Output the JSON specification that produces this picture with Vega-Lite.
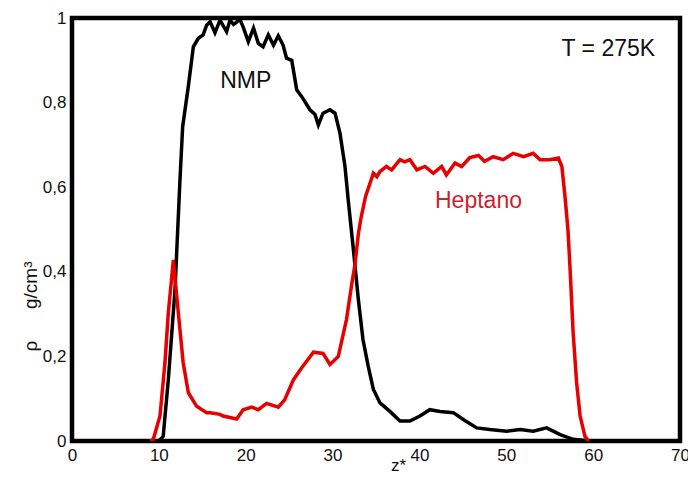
{
  "$schema": "https://vega.github.io/schema/vega-lite/v6.json",
  "autosize": "none",
  "padding": {"left": 72, "top": 18, "right": 8, "bottom": 40},
  "width": 608,
  "height": 423,
  "background": "white",
  "config": {
    "view": {"stroke": "black", "strokeWidth": 4.5},
    "font": "Liberation Sans"
  },
  "datasets": {
    "nmp": [
      {"z": 10.0, "rho": 0},
      {"z": 10.5, "rho": 0.011},
      {"z": 11.09, "rho": 0.145},
      {"z": 11.86, "rho": 0.358},
      {"z": 12.43, "rho": 0.617},
      {"z": 12.74, "rho": 0.743},
      {"z": 13.39, "rho": 0.838},
      {"z": 13.97, "rho": 0.932},
      {"z": 14.54, "rho": 0.952},
      {"z": 15.1, "rho": 0.96},
      {"z": 15.5, "rho": 0.983},
      {"z": 15.9, "rho": 0.991},
      {"z": 16.46, "rho": 0.965},
      {"z": 17.04, "rho": 0.995},
      {"z": 17.8, "rho": 0.968},
      {"z": 18.19, "rho": 0.995},
      {"z": 18.6, "rho": 0.985},
      {"z": 18.96, "rho": 0.99},
      {"z": 19.3, "rho": 0.998},
      {"z": 19.7, "rho": 0.979},
      {"z": 20.3, "rho": 0.944},
      {"z": 20.9, "rho": 0.976},
      {"z": 21.45, "rho": 0.94},
      {"z": 22.0, "rho": 0.932},
      {"z": 22.6, "rho": 0.96},
      {"z": 23.2, "rho": 0.936},
      {"z": 23.75, "rho": 0.958},
      {"z": 24.3, "rho": 0.936},
      {"z": 24.7, "rho": 0.905},
      {"z": 25.3, "rho": 0.9},
      {"z": 25.87, "rho": 0.83},
      {"z": 26.45, "rho": 0.814},
      {"z": 27.4, "rho": 0.783},
      {"z": 27.98, "rho": 0.772},
      {"z": 28.36, "rho": 0.747},
      {"z": 28.9, "rho": 0.775},
      {"z": 29.7, "rho": 0.783},
      {"z": 30.28, "rho": 0.775},
      {"z": 30.85, "rho": 0.728},
      {"z": 31.43, "rho": 0.649},
      {"z": 31.8, "rho": 0.57},
      {"z": 32.4, "rho": 0.452},
      {"z": 32.97, "rho": 0.334},
      {"z": 33.5, "rho": 0.24},
      {"z": 34.1, "rho": 0.177},
      {"z": 34.7, "rho": 0.122},
      {"z": 35.46, "rho": 0.09},
      {"z": 36.6, "rho": 0.07},
      {"z": 37.76, "rho": 0.047},
      {"z": 38.9, "rho": 0.047},
      {"z": 40.06, "rho": 0.059},
      {"z": 41.2, "rho": 0.074},
      {"z": 42.37, "rho": 0.07},
      {"z": 43.9, "rho": 0.067},
      {"z": 45.05, "rho": 0.051},
      {"z": 46.6, "rho": 0.031},
      {"z": 48.1, "rho": 0.027},
      {"z": 50.05, "rho": 0.023},
      {"z": 51.6, "rho": 0.027},
      {"z": 53.1, "rho": 0.023},
      {"z": 54.65, "rho": 0.031},
      {"z": 56.2, "rho": 0.015},
      {"z": 57.7, "rho": 0.004},
      {"z": 59.6, "rho": 0}
    ],
    "hep": [
      {"z": 9.0, "rho": 0},
      {"z": 9.36, "rho": 0.004},
      {"z": 10.13, "rho": 0.059},
      {"z": 10.7, "rho": 0.185},
      {"z": 11.09, "rho": 0.303},
      {"z": 11.67, "rho": 0.428},
      {"z": 12.24, "rho": 0.303},
      {"z": 12.8, "rho": 0.185},
      {"z": 13.4, "rho": 0.114},
      {"z": 14.35, "rho": 0.082},
      {"z": 15.5, "rho": 0.067},
      {"z": 15.9, "rho": 0.067},
      {"z": 17.04, "rho": 0.063},
      {"z": 17.4, "rho": 0.059},
      {"z": 18.96, "rho": 0.052},
      {"z": 19.7, "rho": 0.074},
      {"z": 20.7, "rho": 0.08},
      {"z": 21.45, "rho": 0.074},
      {"z": 22.4, "rho": 0.089},
      {"z": 23.75, "rho": 0.08},
      {"z": 24.5, "rho": 0.098},
      {"z": 25.5, "rho": 0.145},
      {"z": 26.45, "rho": 0.173},
      {"z": 27.8, "rho": 0.21},
      {"z": 28.9, "rho": 0.207},
      {"z": 29.7, "rho": 0.181},
      {"z": 30.66, "rho": 0.2},
      {"z": 31.6, "rho": 0.287},
      {"z": 32.2, "rho": 0.37},
      {"z": 32.58, "rho": 0.417},
      {"z": 32.97, "rho": 0.49},
      {"z": 33.3, "rho": 0.53},
      {"z": 33.8, "rho": 0.578},
      {"z": 34.7, "rho": 0.633},
      {"z": 35.1, "rho": 0.625},
      {"z": 35.46, "rho": 0.637},
      {"z": 36.2, "rho": 0.649},
      {"z": 36.8, "rho": 0.641},
      {"z": 37.76, "rho": 0.665},
      {"z": 38.3, "rho": 0.66},
      {"z": 38.9, "rho": 0.665},
      {"z": 39.7, "rho": 0.641},
      {"z": 40.64, "rho": 0.649},
      {"z": 41.6, "rho": 0.633},
      {"z": 42.56, "rho": 0.649},
      {"z": 43.1, "rho": 0.629},
      {"z": 44.1, "rho": 0.657},
      {"z": 44.86, "rho": 0.649},
      {"z": 45.8, "rho": 0.67},
      {"z": 46.8, "rho": 0.675},
      {"z": 47.5, "rho": 0.661},
      {"z": 48.5, "rho": 0.672},
      {"z": 49.65, "rho": 0.665},
      {"z": 50.8, "rho": 0.68},
      {"z": 52.0, "rho": 0.672},
      {"z": 53.1, "rho": 0.68},
      {"z": 53.9, "rho": 0.665},
      {"z": 55.0, "rho": 0.665},
      {"z": 56.0, "rho": 0.669},
      {"z": 56.4, "rho": 0.649},
      {"z": 56.76, "rho": 0.578},
      {"z": 57.1, "rho": 0.499},
      {"z": 57.33, "rho": 0.413},
      {"z": 57.7, "rho": 0.255},
      {"z": 58.1, "rho": 0.137},
      {"z": 58.5, "rho": 0.059},
      {"z": 59.06, "rho": 0.011},
      {"z": 59.5, "rho": 0}
    ],
    "xmajor": [{"z": 10}, {"z": 20}, {"z": 30}, {"z": 40}, {"z": 50}, {"z": 60}],
    "xminor": [{"z": 5}, {"z": 15}, {"z": 25}, {"z": 35}, {"z": 45}, {"z": 55}, {"z": 65}],
    "ymajor": [{"rho": 0.2}, {"rho": 0.4}, {"rho": 0.6}, {"rho": 0.8}],
    "yminor": [{"rho": 0.1}, {"rho": 0.3}, {"rho": 0.5}, {"rho": 0.7}, {"rho": 0.9}]
  },
  "encoding": {
    "x": {
      "field": "z", "type": "quantitative",
      "scale": {"domain": [0, 70], "nice": false, "zero": false},
      "axis": {
        "orient": "bottom", "values": [0, 10, 20, 30, 40, 50, 60, 70],
        "ticks": false, "domain": false, "grid": false,
        "labelPadding": 6, "labelFontSize": 17, "labelColor": "#111",
        "labelFlush": false, "labelOverlap": false,
        "title": "z*", "titleFontSize": 17, "titleFontWeight": "normal",
        "titleColor": "#111", "titleX": 326, "titleY": 24,
        "titleBaseline": "middle", "titleAlign": "center"
      }
    },
    "y": {
      "field": "rho", "type": "quantitative",
      "scale": {"domain": [0, 1], "nice": false},
      "axis": {
        "orient": "left", "values": [0, 0.2, 0.4, 0.6, 0.8, 1],
        "ticks": false, "domain": false, "grid": false,
        "labelPadding": 6, "labelFontSize": 17, "labelColor": "#111",
        "labelFlush": false, "labelOverlap": false,
        "labelExpr": "replace(format(datum.value, '~g'), '.', ',')",
        "title": "ρ\u00a0\u00a0\u00a0\u00a0\u00a0\u00a0g/cm³", "titleFontSize": 19, "titleFontWeight": "normal",
        "titleColor": "#111", "titleAngle": -90, "titleX": -42, "titleY": 288,
        "titleBaseline": "middle", "titleAlign": "center"
      }
    }
  },
  "layer": [
    {
      "data": {"name": "xmajor"},
      "mark": {"type": "rule", "color": "black", "strokeWidth": 1.5},
      "encoding": {"y": {"datum": 0}, "y2": {"datum": 0.026}}
    },
    {
      "data": {"name": "xmajor"},
      "mark": {"type": "rule", "color": "black", "strokeWidth": 1.5},
      "encoding": {"y": {"datum": 1}, "y2": {"datum": 0.974}}
    },
    {
      "data": {"name": "xminor"},
      "mark": {"type": "rule", "color": "black", "strokeWidth": 1.5},
      "encoding": {"y": {"datum": 0}, "y2": {"datum": 0.014}}
    },
    {
      "data": {"name": "xminor"},
      "mark": {"type": "rule", "color": "black", "strokeWidth": 1.5},
      "encoding": {"y": {"datum": 1}, "y2": {"datum": 0.986}}
    },
    {
      "data": {"name": "ymajor"},
      "mark": {"type": "rule", "color": "black", "strokeWidth": 1.5},
      "encoding": {"x": {"datum": 0}, "x2": {"datum": 1.3}}
    },
    {
      "data": {"name": "ymajor"},
      "mark": {"type": "rule", "color": "black", "strokeWidth": 1.5},
      "encoding": {"x": {"datum": 70}, "x2": {"datum": 68.7}}
    },
    {
      "data": {"name": "yminor"},
      "mark": {"type": "rule", "color": "black", "strokeWidth": 1.5},
      "encoding": {"x": {"datum": 0}, "x2": {"datum": 0.75}}
    },
    {
      "data": {"name": "yminor"},
      "mark": {"type": "rule", "color": "black", "strokeWidth": 1.5},
      "encoding": {"x": {"datum": 70}, "x2": {"datum": 69.25}}
    },
    {
      "data": {"name": "nmp"},
      "mark": {"type": "line", "color": "black", "strokeWidth": 3.5, "clip": true}
    },
    {
      "data": {"name": "hep"},
      "mark": {"type": "line", "color": "#e60000", "strokeWidth": 3.5, "clip": true}
    },
    {
      "data": {"values": [
        {"z": 20.0, "rho": 0.835, "label": "NMP"},
        {"z": 61.75, "rho": 0.91, "label": "T = 275K"}
      ]},
      "mark": {"type": "text", "fontSize": 23, "align": "center", "baseline": "alphabetic", "color": "#111"},
      "encoding": {"text": {"field": "label"}}
    },
    {
      "data": {"values": [{"z": 46.8, "rho": 0.551, "label": "Heptano"}]},
      "mark": {"type": "text", "fontSize": 23, "align": "center", "baseline": "alphabetic", "color": "#cc1f2f"},
      "encoding": {"text": {"field": "label"}}
    }
  ]
}
